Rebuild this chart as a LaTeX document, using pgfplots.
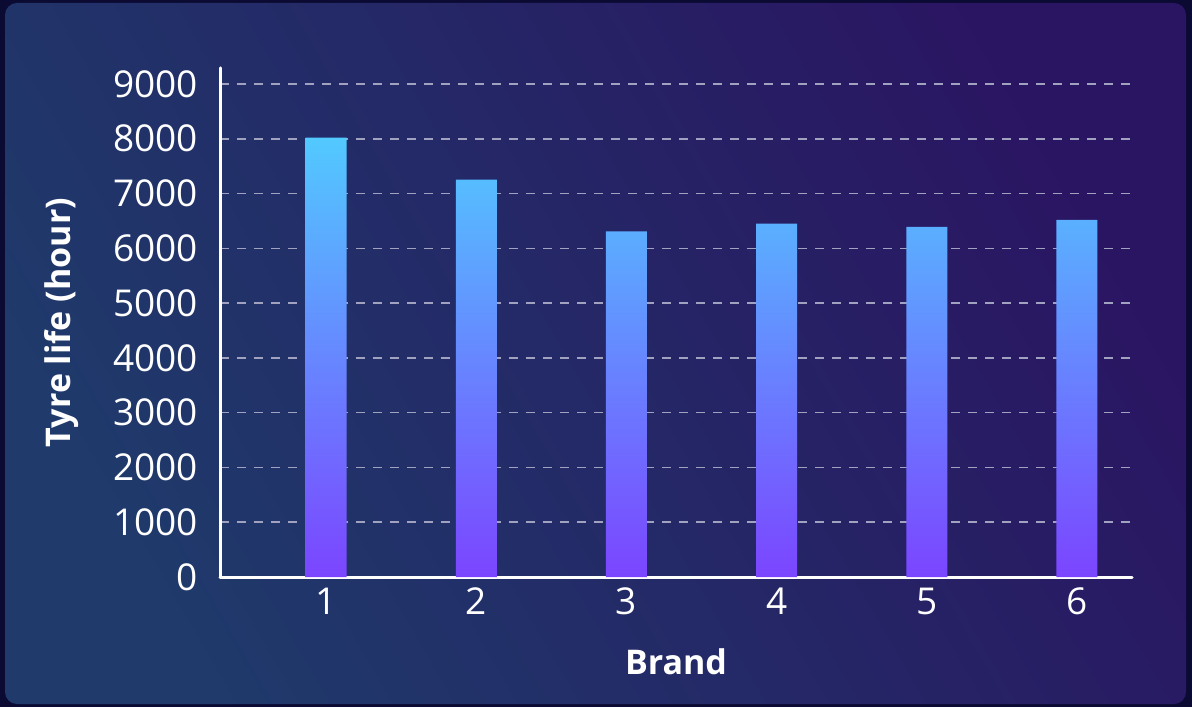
\documentclass[border=0pt]{standalone}
\usepackage{pgfplots}
\pgfplotsset{compat=1.18}
\usepackage{fontspec}
\setmainfont{Open Sans}
\definecolor{bgouter}{HTML}{0B0A33}
\definecolor{bgA}{HTML}{1F3A6B}
\definecolor{bgB}{HTML}{2A1562}
\definecolor{bartop}{HTML}{52C9FF}
\definecolor{barbot}{HTML}{7B45FF}
\definecolor{gridc}{HTML}{A0A2C0}
\begin{document}
\begin{tikzpicture}
\fill[bgouter] (0,0) rectangle (596pt,353.5pt);
\shade[rounded corners=6pt, bottom color=bgA, top color=bgB, shading angle=-60] (2.5pt,1.5pt) rectangle (593pt,352pt);
\begin{axis}[
  at={(110pt,65pt)}, anchor=south west,
  scale only axis, width=456pt, height=254.5pt,
  xmin=0.293, xmax=6.367, ymin=0, ymax=9292,
  axis lines*=left,
  axis line style={white, line width=1.5pt, line cap=round},
  xtick={1,2,3,4,5,6}, ytick={0,1000,...,9000},
  major tick length=0pt,
  ymajorgrids,
  grid style={gridc, line width=0.75pt, dash pattern=on 4.5pt off 4pt},
  tick label style={font=\fontsize{18.5}{20}\selectfont, text=white},
  y tick label style={xshift=-7.5pt},
  x tick label style={yshift=-2pt},
  /pgf/number format/assume math mode=true,
  /pgf/number format/1000 sep={},
  xlabel={Brand},
  ylabel={Tyre life (hour)},
  label style={font=\bfseries\fontsize{17}{20}\selectfont, text=white},
  x label style={at={(axis description cs:0.5,-0.167)}, anchor=center},
  y label style={at={(axis description cs:-0.1732,0.5)}, anchor=center, rotate=0},
]
\addplot[ybar, bar width=20.5pt, draw=none, top color=bartop, bottom color=barbot]
  coordinates {(1,8020) (2,7256) (3,6310) (4,6450) (5,6390) (6,6520)};
\end{axis}
\end{tikzpicture}
\end{document}
